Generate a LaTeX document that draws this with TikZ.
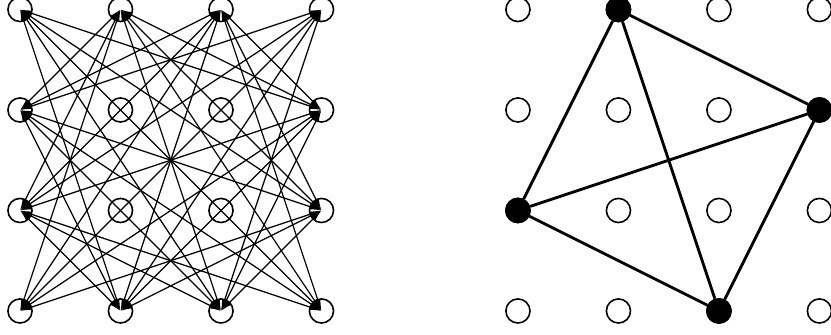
\documentclass[tikz,border=0pt]{standalone}
\usepackage{tikz}
\usetikzlibrary{arrows.meta}
\tikzstyle{gridnode} = [circle, draw, line width=0.45pt, minimum size=0.24cm, inner sep=0pt]
\tikzstyle{hitnode} = [gridnode, fill=black]
\tikzstyle{arrow} = [line width=0.35pt, {Latex[length=3.2pt,width=1.5pt]}-{Latex[length=3.2pt,width=1.5pt]}]
\tikzstyle{clique} = [line width=0.8pt]

\begin{document}
\begin{tikzpicture}
    \useasboundingbox (-0.199,-0.239) rectangle (8.07,3.0945);
    % left: all outer pairs off the same row and column
    \foreach \i in {0,...,3}
      \foreach \j in {0,...,3}
        \node[gridnode] (l-\i-\j) at (\i,\j) {};
    \foreach \a/\b [count=\n] in {0/0,1/0,2/0,3/0,0/1,3/1,0/2,3/2,0/3,1/3,2/3,3/3}
      \foreach \c/\d [count=\m] in {0/0,1/0,2/0,3/0,0/1,3/1,0/2,3/2,0/3,1/3,2/3,3/3}
        {\ifnum\m>\n \ifnum\a=\c\else\ifnum\b=\d\else
          \draw[arrow] (l-\a-\b.center) -- (l-\c-\d.center);
        \fi\fi\fi}
    % right: four picked points
    \begin{scope}[xshift=4.955cm]
      \foreach \i in {0,...,3}
        \foreach \j in {0,...,3}
          \node[gridnode] (r-\i-\j) at (\i,\j) {};
      \foreach \i/\j in {1/3,3/2,0/1,2/0}
        \node[hitnode] at (r-\i-\j) {};
      \draw[clique] (r-1-3) -- (r-0-1) -- (r-2-0) -- (r-3-2) -- (r-1-3) -- (r-2-0);
      \draw[clique] (r-0-1) -- (r-3-2);
    \end{scope}
  \end{tikzpicture}
\end{document}
